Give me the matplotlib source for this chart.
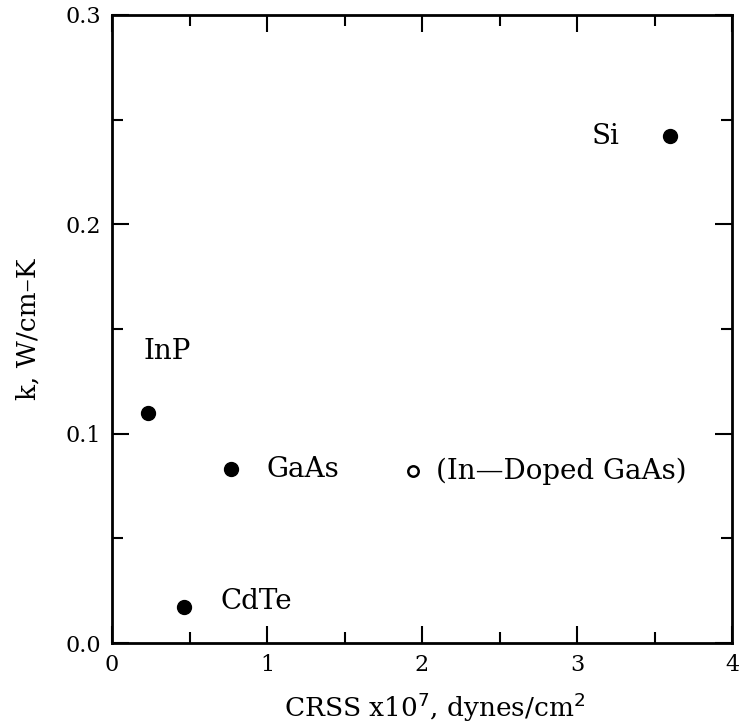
import matplotlib
matplotlib.use('Agg')
import matplotlib.pyplot as plt
from matplotlib.ticker import MultipleLocator

# material data: critical resolved shear stress vs thermal conductivity
materials = ['InP', 'GaAs', 'CdTe', 'Si']
crss = [0.23, 0.77, 0.465, 3.6]
k_cond = [0.110, 0.083, 0.017, 0.242]

doped_name = '(In\u2014Doped GaAs)'
doped_crss = [1.945]
doped_k = [0.082]

plt.rcParams['font.family'] = ['DejaVu Serif']

fig = plt.figure(figsize=(7.39, 7.28), dpi=100)
ax = fig.add_axes([112/739, 1 - 643/728, 620/739, 628/728])

ax.plot(crss, k_cond, 'o', color='black', markersize=10, linestyle='none')
ax.plot(doped_crss, doped_k, 'o', markerfacecolor='white', markeredgecolor='black',
        markeredgewidth=1.8, markersize=7.5, linestyle='none')

# labels next to points (offsets in points)
offsets = {'InP': (-3, 44), 'GaAs': (25, 0), 'CdTe': (26, 4), 'Si': (-36, 0)}
align = {'InP': 'left', 'GaAs': 'left', 'CdTe': 'left', 'Si': 'right'}
for name, x, y in zip(materials, crss, k_cond):
    dx, dy = offsets[name]
    ax.annotate(name, (x, y), xytext=(dx, dy), textcoords='offset points',
                ha=align[name], va='center', fontsize=20)
ax.annotate(doped_name, (doped_crss[0], doped_k[0]), xytext=(16, 0),
            textcoords='offset points', ha='left', va='center', fontsize=20)

ax.set_xlim(0, 4)
ax.set_ylim(0, 0.3)
ax.xaxis.set_major_locator(MultipleLocator(1))
ax.xaxis.set_minor_locator(MultipleLocator(0.5))
ax.yaxis.set_major_locator(MultipleLocator(0.1))
ax.yaxis.set_minor_locator(MultipleLocator(0.05))
ax.yaxis.set_major_formatter(plt.FuncFormatter(lambda v, p: f'{v:.1f}'))

ax.tick_params(which='both', direction='in', top=True, right=True, width=1.5,
               labelsize=16)
ax.tick_params(which='major', length=12, pad=8)
ax.tick_params(which='minor', length=8)
for s in ax.spines.values():
    s.set_linewidth(2)

ax.set_xlabel('CRSS x10$^7$, dynes/cm$^2$', fontsize=19, labelpad=8)
ax.xaxis.set_label_coords(0.52, -0.075)
ax.set_ylabel('k, W/cm\u2013K', fontsize=19, labelpad=18)

fig.savefig('out.png', dpi=100)
